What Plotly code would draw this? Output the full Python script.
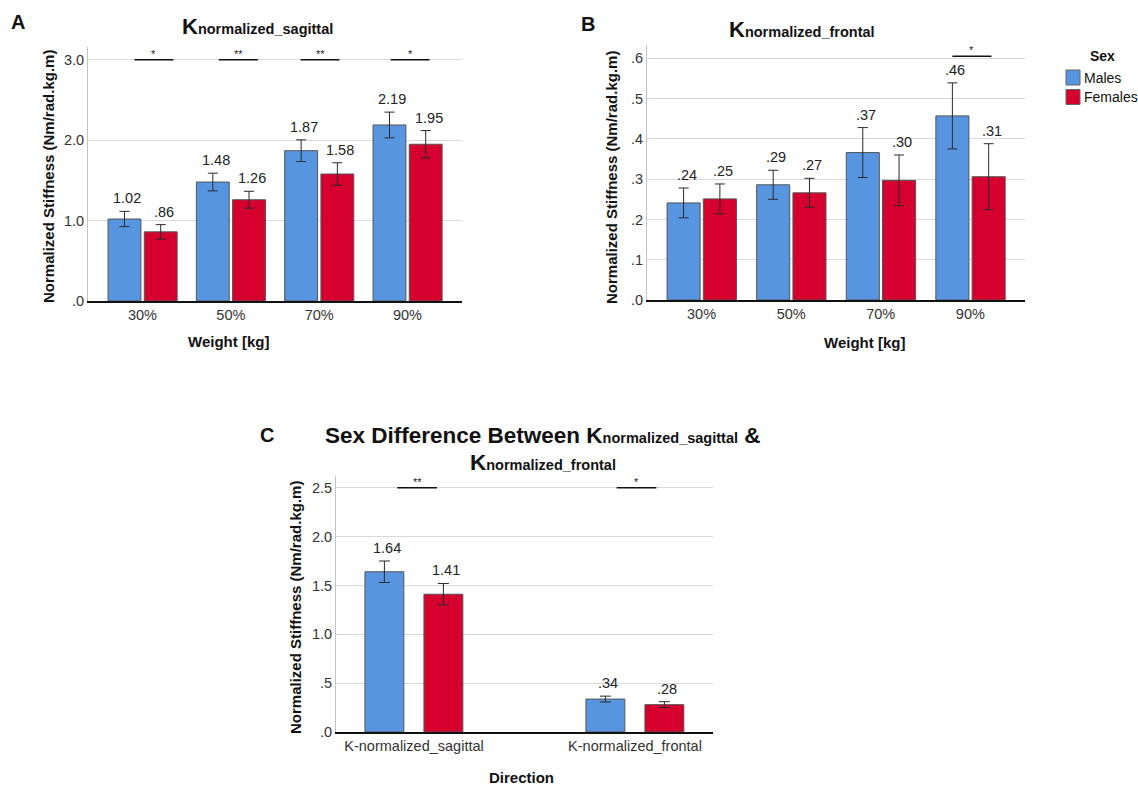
import plotly.graph_objects as go

W, H = 1138, 786          # reference picture size (layout positions measured in it)
FIG_H = 794               # page photo is squeezed slightly in height; compensate

# ---------------- data ----------------
weights = ["30%", "50%", "70%", "90%"]
sag_males = [1.02, 1.48, 1.87, 2.19]
sag_females = [0.86, 1.26, 1.58, 1.95]
sag_males_err = [0.095, 0.11, 0.135, 0.16]
sag_females_err = [0.09, 0.105, 0.14, 0.17]
sag_sig = ["*", "**", "**", "*"]

fro_males = [0.241, 0.286, 0.366, 0.457]
fro_females = [0.251, 0.266, 0.297, 0.306]
fro_males_err = [0.037, 0.036, 0.062, 0.082]
fro_females_err = [0.037, 0.036, 0.063, 0.082]
fro_sig = ["", "", "", "*"]

directions = ["K-normalized_sagittal", "K-normalized_frontal"]
dir_males = [1.64, 0.337]
dir_females = [1.41, 0.28]
dir_males_err = [0.11, 0.03]
dir_females_err = [0.11, 0.03]
dir_sig = ["**", "*"]

sexes = ["Males", "Females"]

ticks_a = [0, 1, 2, 3]
ticks_b = [0, 0.1, 0.2, 0.3, 0.4, 0.5, 0.6]
ticks_c = [0, 0.5, 1.0, 1.5, 2.0, 2.5]

# ---------------- styling ----------------
BLUE = "#5795e1"
RED = "#d6002f"
COLORS = [BLUE, RED]
FONT = "Arial, Liberation Sans, sans-serif"
TXT = "#222222"


def fmt(v, nd=2):
    s = f"{v:.{nd}f}"
    return s[1:] if s.startswith("0") else s


def px_x(p):
    return p / W


def px_y(p):
    return 1 - p / H


fig = go.Figure()

panels = [
    dict(ax="", cats=weights, m=sag_males, f=sag_females, me=sag_males_err, fe=sag_females_err,
         sig=sag_sig, sig_y=3.0, sig_off=[0.13, 0.085, 0.01, 0.03], sig_half=0.22,
         ticks=ticks_a, tnd=1, yr=[0, 3.16], xr=[-0.617, 3.617],
         dom_x=[88, 462], dom_y=[47, 301], width=0.372, moff=-0.39, foff=0.02, cap=5),
    dict(ax="2", cats=weights, m=fro_males, f=fro_females, me=fro_males_err, fe=fro_females_err,
         sig=fro_sig, sig_y=0.605, sig_off=[0, 0, 0, 0.017], sig_half=0.218,
         ticks=ticks_b, tnd=1, yr=[0, 0.633], xr=[-0.609, 3.61],
         dom_x=[647, 1025], dom_y=[45, 300], width=0.369, moff=-0.385, foff=0.02, cap=5),
    dict(ax="3", cats=directions, m=dir_males, f=dir_females, me=dir_males_err, fe=dir_females_err,
         sig=dir_sig, sig_y=2.5, sig_off=[0.014, 0.007], sig_half=0.09,
         ticks=ticks_c, tnd=1, yr=[0, 2.62], xr=[-0.353, 1.353],
         dom_x=[336, 713], dom_y=[476, 732], width=0.176, moff=-0.222, foff=0.045, cap=5.5),
]

annotations = []
shapes = []

for p in panels:
    xa = "x" + p["ax"]
    ya = "y" + p["ax"]
    idx = list(range(len(p["cats"])))
    for name, vals, errs, col, off in [(sexes[0], p["m"], p["me"], BLUE, p["moff"]),
                                        (sexes[1], p["f"], p["fe"], RED, p["foff"])]:
        fig.add_trace(go.Bar(
            x=idx, y=vals, name=name, xaxis=xa, yaxis=ya,
            width=p["width"], offset=off,
            marker=dict(color=col, line=dict(color="#555555", width=1)),
            error_y=dict(type="data", array=errs, visible=True, color="#2a2a2a",
                         thickness=1, width=p["cap"]),
            showlegend=False, legendgroup=name, hoverinfo="skip",
        ))
        for i, v, e in zip(idx, vals, errs):
            annotations.append(dict(
                x=i + off + p["width"] / 2, y=v + e, xref=xa, yref=ya,
                text=fmt(v), showarrow=False, yanchor="bottom", yshift=3, xshift=3,
                font=dict(family=FONT, size=14.5, color=TXT)))
    for i, s in enumerate(p["sig"]):
        if not s:
            continue
        c = i + p["sig_off"][i]
        shapes.append(dict(type="line", xref=xa, yref=ya, x0=c - p["sig_half"],
                           x1=c + p["sig_half"], y0=p["sig_y"], y1=p["sig_y"],
                           line=dict(color="#111111", width=1.5)))
        annotations.append(dict(x=c, y=p["sig_y"], xref=xa, yref=ya, text=s,
                                showarrow=False, yanchor="bottom", yshift=-2,
                                font=dict(family=FONT, size=11, color=TXT)))

    xkey = "xaxis" + p["ax"]
    ykey = "yaxis" + p["ax"]
    fig.update_layout(**{
        xkey: dict(domain=[px_x(p["dom_x"][0]), px_x(p["dom_x"][1])], anchor=ya,
                   range=p["xr"], tickvals=idx, ticktext=p["cats"], showgrid=False,
                   zeroline=False, showline=True, linecolor="#111111", linewidth=2,
                   ticks="", tickfont=dict(family=FONT, size=14.5, color="#333333"),
                   fixedrange=True),
        ykey: dict(domain=[px_y(p["dom_y"][1]), px_y(p["dom_y"][0])], anchor=xa,
                   range=p["yr"], tickvals=p["ticks"],
                   ticktext=[fmt(t, p["tnd"]) for t in p["ticks"]],
                   showgrid=True, gridcolor="#d9d9d9", gridwidth=1, zeroline=False,
                   showline=True, linecolor="#c4c4c4", linewidth=1, ticks="",
                   tickfont=dict(family=FONT, size=14.5, color="#333333"),
                   fixedrange=True),
    })


def txt(x, y, text, size, bold=True, angle=0, color="#111111", anchor="center"):
    annotations.append(dict(x=px_x(x), y=px_y(y), xref="paper", yref="paper",
                            text=f"<b>{text}</b>" if bold else text, showarrow=False,
                            xanchor=anchor, yanchor="middle", textangle=angle,
                            font=dict(family=FONT, size=size, color=color)))


SUB = "<span style='font-size:14.5px'>{}</span>"
# panel letters
txt(18, 22, "A", 20)
txt(588, 24, "B", 20)
txt(267, 435, "C", 20)
# titles
txt(257, 26, "K" + SUB.format("normalized_sagittal"), 22)
txt(802, 30, "K" + SUB.format("normalized_frontal"), 22)
txt(542, 435, "Sex Difference Between K" + SUB.format("normalized_sagittal") + " &", 22.5)
txt(543, 462, "K" + SUB.format("normalized_frontal"), 22.5)
# axis titles
ytitle = "Normalized Stiffness (Nm/rad.kg.m)"
txt(48, 177, ytitle, 15, angle=-90)
txt(612, 178, ytitle, 15, angle=-90)
txt(295, 608, ytitle, 15, angle=-90)
txt(228, 342, "Weight [kg]", 15)
txt(864, 343, "Weight [kg]", 15)
txt(521, 777, "Direction", 15)

# legend (drawn manually to match the original's box layout)
txt(1102, 56, "Sex", 14)
for k, (name, col) in enumerate(zip(sexes, COLORS)):
    top = 70 + k * 19.5
    shapes.append(dict(type="rect", xref="paper", yref="paper",
                       x0=px_x(1066), x1=px_x(1080), y0=px_y(top + 15), y1=px_y(top),
                       fillcolor=col, line=dict(color="#666666", width=1)))
    txt(1082, top + 8, name, 14, bold=False, anchor="left")

fig.update_layout(
    width=W, height=FIG_H,
    margin=dict(l=0, r=0, t=0, b=0),
    paper_bgcolor="white", plot_bgcolor="white",
    barmode="overlay", showlegend=False,
    annotations=annotations, shapes=shapes,
    font=dict(family=FONT, color=TXT),
)

fig.write_html(
    "out.html",
    config={"displayModeBar": False, "responsive": False},
    post_script=(
        "var s=document.documentElement.style;s.margin='0';s.padding='0';s.overflow='hidden';"
        "var b=document.body.style;b.margin='0';b.padding='0';b.overflow='hidden';"
    ),
)
